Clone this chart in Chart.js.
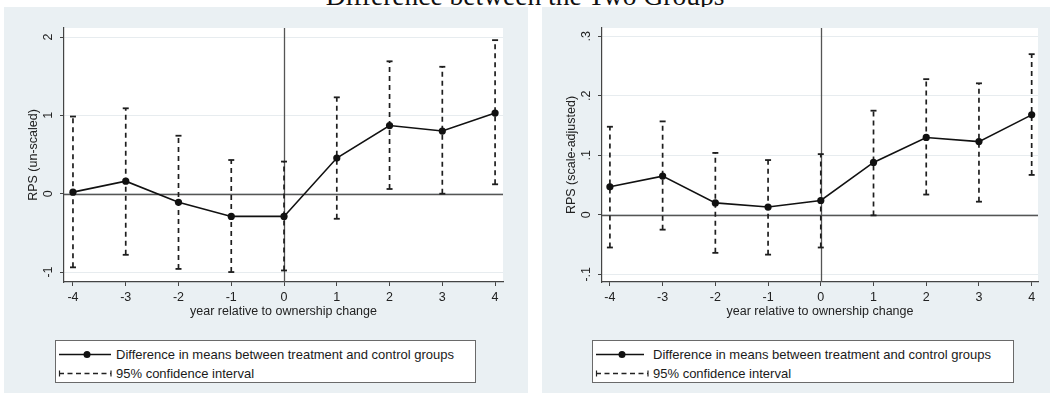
<!DOCTYPE html>
<html>
<head>
<meta charset="utf-8">
<script src="https://cdn.jsdelivr.net/npm/chart.js@4.4.1/dist/chart.umd.min.js"></script>
<style>
  html, body { margin:0; padding:0; background:#ffffff; width:1050px; height:397px; overflow:hidden; position:relative; font-family:"Liberation Sans", Arial, sans-serif; }
  .title { position:absolute; left:0; width:1050px; top:-18px; text-align:center; font-family:"Liberation Serif","Times New Roman",serif; font-size:27.5px; line-height:27.5px; color:#111; }
  .panel { position:absolute; top:7px; height:386px; background:#eaf0f3; }
  .cwrap { position:absolute; top:0; left:0; height:323px; }
  .legend { position:absolute; top:333px; height:43px; background:#fff; border:1px solid #6a6a6a; box-sizing:border-box; font-size:13px; color:#1a1a1a; }
  .row { position:absolute; left:0; height:19px; line-height:19px; white-space:nowrap; }
  .row svg { position:absolute; left:2px; top:2px; }
  .row span { position:absolute; }
</style>
</head>
<body>
<div class="title">Difference between the Two Groups</div>

<div class="panel" style="left:4px; width:524px;">
  <div class="cwrap" style="width:524px;"><canvas id="c1"></canvas></div>
  <div class="legend" style="left:51px; width:421px;">
    <div class="row" style="top:4px;"><svg width="56" height="15"><line x1="1" y1="7.5" x2="53" y2="7.5" stroke="#111" stroke-width="1.5"/><circle cx="29" cy="7.5" r="3.5" fill="#111"/></svg><span style="left:60px;">Difference in means between treatment and control groups</span></div>
    <div class="row" style="top:23px;"><svg width="56" height="15"><line x1="1" y1="7.5" x2="53" y2="7.5" stroke="#222" stroke-width="1.4" stroke-dasharray="5,3.5"/><line x1="1.5" y1="4.5" x2="1.5" y2="10.5" stroke="#222" stroke-width="1.2"/><line x1="53" y1="4.5" x2="53" y2="10.5" stroke="#222" stroke-width="1.2"/></svg><span style="left:60px;">95% confidence interval</span></div>
  </div>
</div>

<div class="panel" style="left:542px; width:508px;">
  <div class="cwrap" style="width:508px;"><canvas id="c2"></canvas></div>
  <div class="legend" style="left:50px; width:422px;">
    <div class="row" style="top:4px;"><svg width="56" height="15"><line x1="1" y1="7.5" x2="49" y2="7.5" stroke="#111" stroke-width="1.5"/><circle cx="27" cy="7.5" r="3.5" fill="#111"/></svg><span style="left:60px;">Difference in means between treatment and control groups</span></div>
    <div class="row" style="top:23px;"><svg width="56" height="15"><line x1="1" y1="7.5" x2="53" y2="7.5" stroke="#222" stroke-width="1.4" stroke-dasharray="5,3.5"/><line x1="1.5" y1="4.5" x2="1.5" y2="10.5" stroke="#222" stroke-width="1.2"/><line x1="53" y1="4.5" x2="53" y2="10.5" stroke="#222" stroke-width="1.2"/></svg><span style="left:60px;">95% confidence interval</span></div>
  </div>
</div>

<script>
// ---- data ----
const years = [-4, -3, -2, -1, 0, 1, 2, 3, 4];

const unscaledMean = [0.02, 0.16, -0.11, -0.29, -0.29, 0.455, 0.87, 0.80, 1.03];
const unscaledLow  = [-0.94, -0.78, -0.96, -1.00, -0.98, -0.32, 0.06, 0.00, 0.12];
const unscaledHigh = [0.985, 1.09, 0.74, 0.43, 0.41, 1.23, 1.69, 1.62, 1.96];

const adjustedMean = [0.047, 0.065, 0.020, 0.013, 0.024, 0.088, 0.130, 0.123, 0.168];
const adjustedLow  = [-0.055, -0.025, -0.064, -0.067, -0.055, -0.001, 0.034, 0.022, 0.067];
const adjustedHigh = [0.148, 0.157, 0.104, 0.092, 0.102, 0.175, 0.228, 0.221, 0.270];

const unscaledTicks = [-1, 0, 1, 2];
const unscaledTickLabels = ['-1', '0', '1', '2'];
const adjustedTicks = [-0.1, 0, 0.1, 0.2, 0.3];
const adjustedTickLabels = ['-.1', '0', '.1', '.2', '.3'];

const xTitle = 'year relative to ownership change';
const yTitleUnscaled = 'RPS (un-scaled)';
const yTitleAdjusted = 'RPS (scale-adjusted)';

// ---- helpers ----
const FONT = '"Liberation Sans", Arial, sans-serif';
const AXIS = '#444';
const TEXT = '#222';

function ciPoints(xs, lo, hi) {
  const out = [];
  xs.forEach((x, i) => { out.push({x, y: lo[i]}); out.push({x, y: hi[i]}); out.push({x, y: null}); });
  return out;
}

const deco = {
  id: 'deco',
  beforeDraw(chart) {
    const {ctx, chartArea: a} = chart;
    ctx.save();
    ctx.fillStyle = '#ffffff';
    ctx.fillRect(a.left, a.top, a.right - a.left, a.bottom - a.top);
    ctx.restore();
  },
  beforeDatasetsDraw(chart) {
    const {ctx, chartArea: a, scales} = chart;
    const x0 = Math.round(scales.x.getPixelForValue(0)) + 0.5;
    const y0 = Math.round(scales.y.getPixelForValue(0)) + 0.5;
    ctx.save();
    ctx.strokeStyle = '#555';
    ctx.lineWidth = 1.3;
    ctx.beginPath();
    ctx.moveTo(a.left, y0); ctx.lineTo(a.right, y0);
    ctx.moveTo(x0, a.top); ctx.lineTo(x0, a.bottom);
    ctx.stroke();
    ctx.restore();
  },
  afterDraw(chart, args, opts) {
    const {ctx, chartArea: a, scales} = chart;
    ctx.save();
    ctx.fillStyle = TEXT;
    ctx.font = '12.5px ' + FONT;
    ctx.textAlign = 'center';
    ctx.textBaseline = 'middle';
    opts.ticks.forEach((v, i) => {
      const y = scales.y.getPixelForValue(v);
      ctx.save();
      ctx.translate(opts.tickX, y);
      ctx.rotate(-Math.PI / 2);
      ctx.fillText(opts.labels[i], 0, 0);
      ctx.restore();
    });
    ctx.save();
    ctx.translate(opts.titleX, (a.top + a.bottom) / 2);
    ctx.rotate(-Math.PI / 2);
    ctx.fillText(opts.yTitle, 0, 0);
    ctx.restore();
    ctx.fillText(opts.xTitle, (a.left + a.right) / 2, opts.xTitleY);
    ctx.restore();
  }
};

function makeChart(id, mean, lo, hi, yMin, yMax, xMin, xMax, yTicks, yLabels, yTitle, padRight) {
  return new Chart(document.getElementById(id), {
    type: 'scatter',
    data: {
      datasets: [
        {
          label: 'Difference in means between treatment and control groups',
          data: years.map((x, i) => ({x, y: mean[i]})),
          showLine: true,
          borderColor: '#111',
          backgroundColor: '#111',
          borderWidth: 1.6,
          pointRadius: 3.6,
          pointHoverRadius: 3.6,
          pointBorderWidth: 0,
          tension: 0
        },
        {
          label: '95% confidence interval',
          data: ciPoints(years, lo, hi),
          showLine: true,
          spanGaps: false,
          borderColor: '#1e1e1e',
          backgroundColor: '#1e1e1e',
          borderWidth: 1.7,
          borderDash: [5, 4],
          pointStyle: 'line',
          pointRadius: 3,
          pointHoverRadius: 3,
          pointBorderWidth: 1.8,
          pointBorderColor: '#1e1e1e'
        }
      ]
    },
    options: {
      responsive: false,
      animation: false,
      devicePixelRatio: 1,
      layout: { padding: { left: 0, right: padRight, top: 21, bottom: 0 } },
      plugins: {
        legend: { display: false },
        tooltip: { enabled: false },
        deco: { ticks: yTicks, labels: yLabels, yTitle: yTitle, xTitle: xTitle, tickX: 45, titleX: 30, xTitleY: 305 }
      },
      scales: {
        x: {
          type: 'linear',
          min: xMin, max: xMax,
          afterBuildTicks: s => { s.ticks = years.map(v => ({value: v})); },
          afterFit: s => { s.height = 48; },
          grid: { drawOnChartArea: false, drawTicks: true, tickLength: 4, tickColor: AXIS, tickWidth: 1 },
          border: { display: true, color: AXIS, width: 1.2 },
          ticks: { color: TEXT, font: { family: FONT, size: 12.5 }, padding: 4, maxRotation: 0, minRotation: 0 }
        },
        y: {
          type: 'linear',
          min: yMin, max: yMax,
          afterBuildTicks: s => { s.ticks = yTicks.map(v => ({value: v})); },
          afterFit: s => { s.width = 60; },
          grid: { drawOnChartArea: true, color: '#e7ecef', lineWidth: 1, drawTicks: true, tickLength: 4, tickColor: AXIS, tickWidth: 1 },
          border: { display: true, color: AXIS, width: 1.2 },
          ticks: { display: false }
        }
      }
    },
    plugins: [deco]
  });
}

function sizeCanvas(id, w, h) {
  const c = document.getElementById(id);
  c.width = w; c.height = h; c.style.width = w + 'px'; c.style.height = h + 'px';
}
sizeCanvas('c1', 524, 323);
sizeCanvas('c2', 508, 323);

makeChart('c1', unscaledMean, unscaledLow, unscaledHigh, -1.127, 2.115, -4.17, 4.15,
  unscaledTicks, unscaledTickLabels, yTitleUnscaled, 25);
makeChart('c2', adjustedMean, adjustedLow, adjustedHigh, -0.113, 0.314, -4.15, 4.12,
  adjustedTicks, adjustedTickLabels, yTitleAdjusted, 12);
</script>
</body>
</html>
